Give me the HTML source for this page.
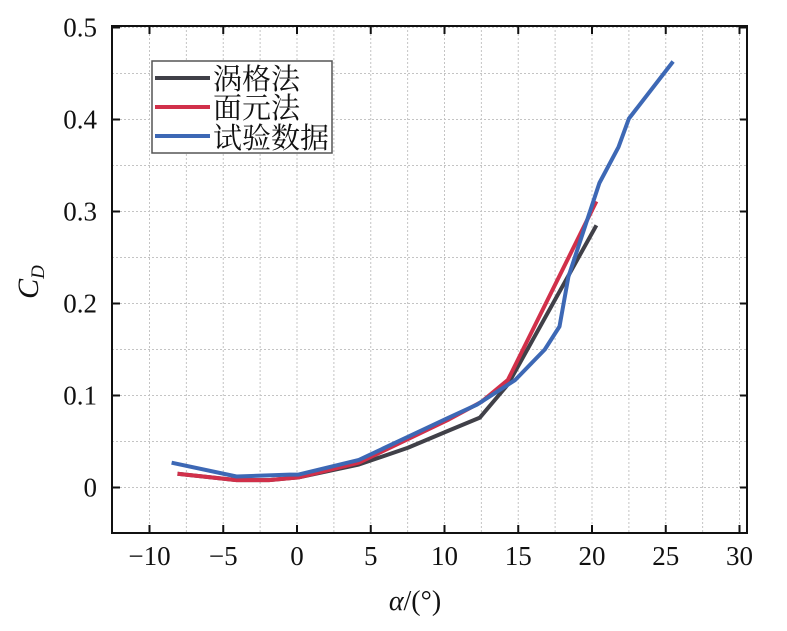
<!DOCTYPE html>
<html><head><meta charset="utf-8"><style>
body{margin:0;background:#fff;}
svg text{font-family:"Liberation Serif","Noto Serif CJK SC",serif;fill:#111;}
</style></head><body>
<svg id="chart" width="787" height="626" viewBox="0 0 787 626">
<g id="grid"></g>
<g id="series"></g>
<g id="axes"></g>
<text x="415" y="610" font-size="28" text-anchor="middle"><tspan font-style="italic">α</tspan>/(°)</text>
<text transform="translate(38,282) rotate(-90)" font-size="30" text-anchor="middle"><tspan font-style="italic">C</tspan><tspan font-style="italic" font-size="19" dy="6">D</tspan></text>
<g>
<rect x="152" y="61" width="180" height="92" fill="#fff" stroke="#555" stroke-width="1.5"/>
<line x1="155" y1="78" x2="210" y2="78" stroke="#404048" stroke-width="4"/>
<text x="213" y="89" font-size="29">涡格法</text>
<line x1="155" y1="107" x2="210" y2="107" stroke="#d1304a" stroke-width="4"/>
<text x="213" y="118" font-size="29">面元法</text>
<line x1="155" y1="136" x2="210" y2="136" stroke="#3d68b5" stroke-width="4"/>
<text x="213" y="148" font-size="29">试验数据</text>
</g>
</svg>
<script>
const xTicks=[-10,-5,0,5,10,15,20,25,30];
const yTicks=[0,0.1,0.2,0.3,0.4,0.5];
const yTickLabels=["0","0.1","0.2","0.3","0.4","0.5"];
const vortexX=[-8.1,-4.1,-1.9,0.1,4.2,7.5,10.3,12.4,14.3,20.3];
const vortexY=[0.015,0.008,0.008,0.011,0.025,0.043,0.062,0.076,0.112,0.285];
const panelX=[-8.1,-4.1,-1.9,0.1,4.2,10.3,12.5,14.3,20.3];
const panelY=[0.015,0.008,0.008,0.011,0.027,0.074,0.093,0.117,0.311];
const testX=[-8.5,-4.1,-0.5,0.1,4.2,10.3,12.2,14.8,16.8,17.8,18.4,20.5,21.8,22.5,25.5];
const testY=[0.027,0.012,0.014,0.014,0.030,0.076,0.090,0.117,0.150,0.175,0.229,0.331,0.370,0.401,0.463];
const L=112,R=747,T=26,B=533;
const sx=v=>297+v*14.75;
const sy=v=>487.5-v*920;
const NS="http://www.w3.org/2000/svg";
function mk(tag,attrs,parent){const e=document.createElementNS(NS,tag);for(const k in attrs)e.setAttribute(k,attrs[k]);parent.appendChild(e);return e;}
const grid=document.getElementById('grid'),axes=document.getElementById('axes'),ser=document.getElementById('series');
for(let v=-12.5;v<=30;v+=2.5){const x=sx(v);if(x<=L+1||x>=R-1)continue;
const g=mk('line',{x1:x,y1:T,x2:x,y2:B,stroke:'#c4c4c4','stroke-width':1,'stroke-dasharray':'2,2'},grid);

}
for(let v=-0.05;v<=0.5;v+=0.05){const y=sy(v);if(y<=T+1||y>=B-1)continue;
const g=mk('line',{x1:L,y1:y,x2:R,y2:y,stroke:'#c4c4c4','stroke-width':1,'stroke-dasharray':'2,2'},grid);

}
const fr=mk('rect',{x:L,y:T,width:R-L,height:B-T,fill:'none',stroke:'#111','stroke-width':2},axes);


xTicks.forEach(v=>{const x=sx(v);
if(x>L+2&&x<R-2){mk('line',{x1:x,y1:B,x2:x,y2:B-8,stroke:'#111','stroke-width':2},axes);mk('line',{x1:x,y1:T,x2:x,y2:T+8,stroke:'#111','stroke-width':2},axes);}
const t=mk('text',{x:x,y:565,'font-size':27,'text-anchor':'middle'},axes);
t.textContent=v<0?'−'+(-v):String(v);

});
yTicks.forEach((v,i)=>{const y=sy(v);
mk('line',{x1:L,y1:y,x2:L+8,y2:y,stroke:'#111','stroke-width':2},axes);
mk('line',{x1:R,y1:y,x2:R-7,y2:y,stroke:'#111','stroke-width':2},axes);
const t=mk('text',{x:97,y:y+9,'font-size':27,'text-anchor':'end'},axes);
t.textContent=yTickLabels[i];

});
function line(xs,ys,color,name){const d=xs.map((x,i)=>(i?'L':'M')+sx(x).toFixed(1)+','+sy(ys[i]).toFixed(1)).join('');
const p=mk('path',{d:d,fill:'none',stroke:color,'stroke-width':4,'stroke-linejoin':'round'},ser);

}
line(vortexX,vortexY,'#404048','vortex-lattice-line');
line(panelX,panelY,'#d1304a','panel-method-line');
line(testX,testY,'#3d68b5','test-data-line');
</script>
</body></html>
